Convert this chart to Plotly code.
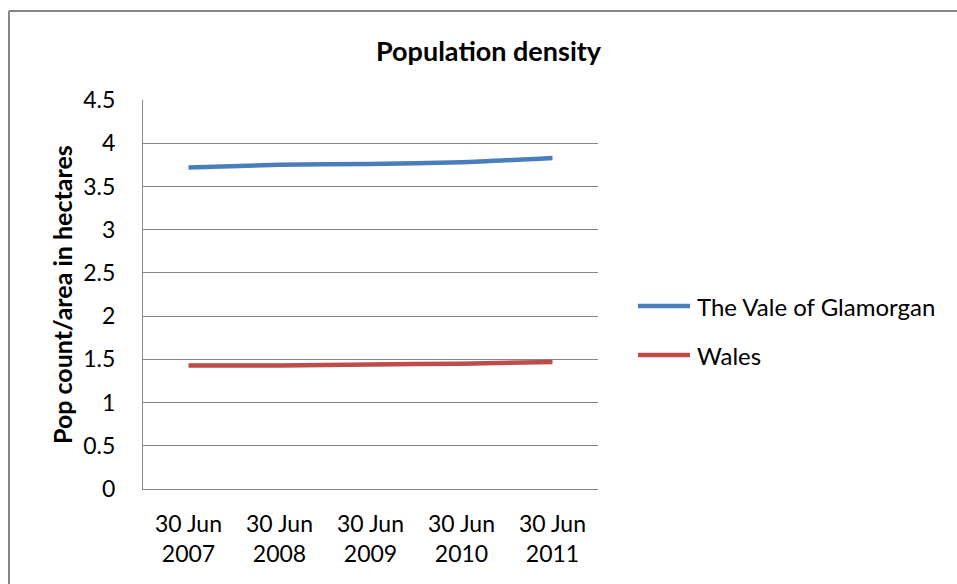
import plotly.graph_objects as go

# Population density (people per hectare), mid-year estimates
dates = ["30 Jun<br>2007", "30 Jun<br>2008", "30 Jun<br>2009", "30 Jun<br>2010", "30 Jun<br>2011"]
vale_of_glamorgan = [3.72, 3.75, 3.76, 3.78, 3.83]
wales = [1.43, 1.43, 1.44, 1.45, 1.47]
series_names = ["The Vale of Glamorgan", "Wales"]
series_colors = ["#4A7EBB", "#BE4B48"]
y_ticks = [0, 0.5, 1, 1.5, 2, 2.5, 3, 3.5, 4, 4.5]

FONT = "Lato"
W, H = 957, 584
L, R, T, B = 143, 359, 100, 95
PW, PH = W - L - R, H - T - B

def px_x(x):
    return (x - L) / PW

def px_y(y):
    return (H - B - y) / PH

fig = go.Figure()
for name, vals, col in zip(series_names, [vale_of_glamorgan, wales], series_colors):
    fig.add_trace(go.Scatter(
        x=dates, y=vals, name=name, mode="lines",
        line=dict(color=col, width=4.5, shape="spline", smoothing=0.6),
        showlegend=False,
    ))

shapes = [
    # chart frame (top and left edges)
    dict(type="line", xref="paper", yref="paper", x0=px_x(9), x1=px_x(1200),
         y0=px_y(11), y1=px_y(11), line=dict(color="#868686", width=2)),
    dict(type="line", xref="paper", yref="paper", x0=px_x(9), x1=px_x(9),
         y0=px_y(11), y1=px_y(800), line=dict(color="#868686", width=2)),
]
annotations = [
    dict(text="<b>Population density</b>", xref="paper", yref="paper",
         x=px_x(489), y=px_y(51), showarrow=False, xanchor="center", yanchor="middle",
         font=dict(family=FONT, size=27, color="#000000")),
    dict(text="<b>Pop count/area in hectares</b>", xref="paper", yref="paper",
         x=px_x(62), y=px_y(295), showarrow=False, textangle=-90,
         xanchor="center", yanchor="middle",
         font=dict(family=FONT, size=25, color="#000000")),
]

# legend entries
legend_y = [306, 355]
for name, col, ly in zip(series_names, series_colors, legend_y):
    shapes.append(dict(type="line", xref="paper", yref="paper",
                       x0=px_x(638), x1=px_x(690), y0=px_y(ly), y1=px_y(ly),
                       line=dict(color=col, width=4.5)))
    annotations.append(dict(text=name, xref="paper", yref="paper",
                            x=px_x(695), y=px_y(ly), showarrow=False,
                            xanchor="left", yanchor="middle",
                            font=dict(family=FONT, size=24, color="#000000")))

fig.update_layout(
    width=W, height=H,
    margin=dict(l=L, r=R, t=T, b=B),
    paper_bgcolor="white", plot_bgcolor="white",
    font=dict(family=FONT, size=23, color="#000000"),
    shapes=shapes, annotations=annotations,
)
fig.update_xaxes(
    type="category", range=[-0.5, 4.5],
    showgrid=False, showline=True, linecolor="#868686", linewidth=1,
    ticks="", ticklabelstandoff=14,
    tickfont=dict(family=FONT, size=23, color="#000000"),
    zeroline=False,
)
fig.update_yaxes(
    range=[0, 4.5], tickvals=y_ticks, ticktext=[f"{v:g}" for v in y_ticks],
    showgrid=True, gridcolor="#868686", gridwidth=1,
    showline=True, linecolor="#868686", linewidth=1,
    ticks="", ticklabelstandoff=22,
    tickfont=dict(family=FONT, size=23, color="#000000"),
    zeroline=False,
)

fig.write_html("out.html")
